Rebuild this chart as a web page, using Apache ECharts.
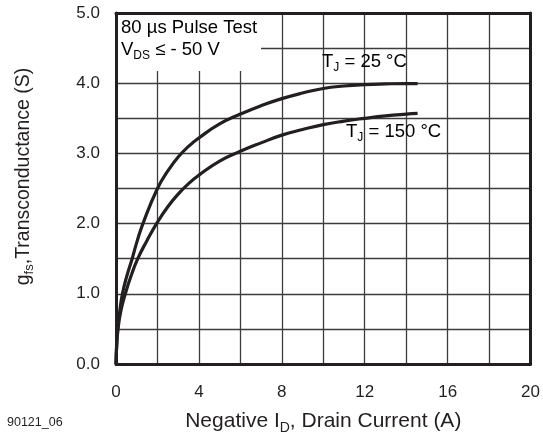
<!DOCTYPE html>
<html>
<head>
<meta charset="utf-8">
<script src="https://cdn.jsdelivr.net/npm/echarts@6/dist/echarts.min.js"></script>
<style>html,body{margin:0;padding:0;background:#fff;}#c{width:543px;height:443px;}</style>
</head>
<body>
<div id="c"></div>
<script>
// Data
const current25 = [0, 0.03, 0.08, 0.18, 0.31, 0.52, 0.78, 1.02, 1.3, 2.0, 2.5, 3.0, 3.5, 4.0, 5.0, 6.0, 7.0, 8.0, 9.0, 10.0, 11.0, 12.0, 13.0, 14.0, 14.55];
const gfs25     = [0, 0.25, 0.5, 0.75, 1.0, 1.25, 1.5, 1.75, 2.0, 2.5, 2.75, 2.95, 3.1, 3.22, 3.42, 3.56, 3.68, 3.78, 3.86, 3.925, 3.96, 3.98, 3.99, 3.995, 3.995];
const current150 = [0, 0.03, 0.1, 0.23, 0.45, 0.72, 1.05, 1.48, 2.0, 2.5, 3.0, 3.5, 4.0, 5.0, 6.0, 7.0, 8.0, 9.0, 10.0, 11.0, 12.0, 13.0, 14.0, 14.55];
const gfs150     = [0, 0.25, 0.5, 0.75, 1.0, 1.25, 1.5, 1.75, 2.02, 2.24, 2.42, 2.57, 2.69, 2.89, 3.03, 3.15, 3.26, 3.34, 3.41, 3.46, 3.5, 3.535, 3.56, 3.57];
const xTicks = [0, 4, 8, 12, 16, 20];
const yTicks = [0, 1, 2, 3, 4, 5];

const ink = '#231f20';
const font = "'Liberation Sans', Arial, Helvetica, sans-serif";
const zip = (xs, ys) => xs.map((x, i) => [x, ys[i]]);

function richOf(size) {
  return {
    n: { fontSize: size, lineHeight: Math.round(size * 1.3), color: ink, fontFamily: font },
    s: { fontSize: Math.round(size * 0.66), lineHeight: Math.round(size * 0.75), color: ink, fontFamily: font, verticalAlign: 'bottom' }
  };
}
const richBox = richOf(18.5);
const richX = richOf(21);
const richY = richOf(19.5);

const chart = echarts.init(document.getElementById('c'));
const gridLine = { show: true, lineStyle: { color: '#3c3c3c', width: 1.3 } };
const frameLine = { show: true, onZero: false, lineStyle: { color: ink, width: 3 } };

chart.setOption({
  animation: false,
  backgroundColor: '#fff',
  grid: { left: 116, right: 11, top: 13, bottom: 79, containLabel: false },
  xAxis: [{
    type: 'value', min: 0, max: 20, interval: 2,
    axisLine: frameLine, axisTick: { show: false }, splitLine: gridLine,
    axisLabel: { margin: 20, fontSize: 17, color: ink, fontFamily: font,
      formatter: v => xTicks.indexOf(v) >= 0 ? String(v) : '' },
    name: '{n|Negative I}{s|D}{n|, Drain Current (A)}',
    nameLocation: 'middle', nameGap: 44,
    nameTextStyle: { rich: richX }
  }, {
    type: 'value', position: 'top', min: 0, max: 20, interval: 2,
    axisLine: frameLine, axisTick: { show: false }, splitLine: { show: false },
    axisLabel: { show: false }
  }],
  yAxis: [{
    type: 'value', min: 0, max: 5, interval: 0.5,
    axisLine: frameLine, axisTick: { show: false }, splitLine: gridLine,
    axisLabel: { margin: 16, fontSize: 17, color: ink, fontFamily: font,
      formatter: v => yTicks.indexOf(v) >= 0 ? v.toFixed(1) : '' },
    name: '{n|g}{s|fs}{n|,Transconductance (S)}',
    nameLocation: 'middle', nameGap: 80,
    nameTextStyle: { rich: richY, padding: [0, 0, 0, 24] }
  }, {
    type: 'value', position: 'right', min: 0, max: 5, interval: 0.5,
    axisLine: frameLine, axisTick: { show: false }, splitLine: { show: false },
    axisLabel: { show: false }
  }],
  graphic: [
    { type: 'rect', left: 118, top: 15, z: 1, shape: { width: 143, height: 56 }, style: { fill: '#fff' } },
    { type: 'text', left: 121, top: 18, z: 2, style: { rich: richBox, text: '{n|80 µs Pulse Test}' } },
    { type: 'text', left: 121, top: 40, z: 2, style: { rich: richBox, text: '{n|V}{s|DS}{n| ≤ - 50 V}' } },
    { type: 'text', left: 322, top: 52, z: 2, style: { rich: richBox, text: '{n|T}{s|J}{n| = 25 °C}' } },
    { type: 'text', left: 346, top: 122, z: 2, style: { rich: richBox, text: '{n|T}{s|J}{n| = 150 °C}' } },
    { type: 'text', left: 7, top: 416, style: { text: '90121_06', fontSize: 12.5, fill: ink, fontFamily: font } }
  ],
  series: [{
    name: 'TJ = 25 °C', type: 'line', data: zip(current25, gfs25),
    showSymbol: false, smooth: 0.5, z: 5,
    lineStyle: { color: ink, width: 3.2 }
  }, {
    name: 'TJ = 150 °C', type: 'line', data: zip(current150, gfs150),
    showSymbol: false, smooth: 0.5, z: 5,
    lineStyle: { color: ink, width: 3.2 }
  }]
});
</script>
</body>
</html>
